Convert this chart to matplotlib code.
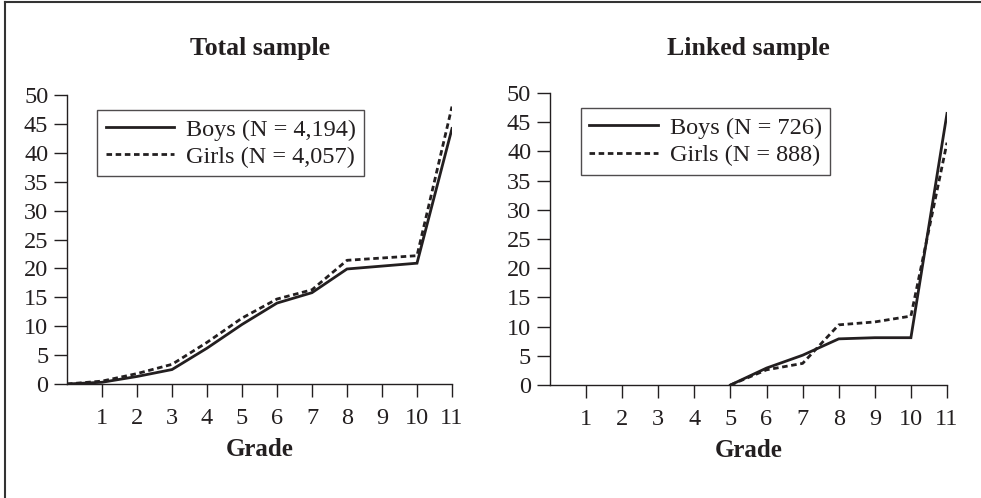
import matplotlib
matplotlib.use("Agg")
import matplotlib.pyplot as plt
from matplotlib.lines import Line2D

plt.rcParams['font.family'] = ['Liberation Serif', 'DejaVu Serif']

grades_total = [0, 1, 2, 3, 4, 5, 6, 7, 8, 9, 10, 11]
boys_total = [0, 0.3, 1.3, 2.5, 6.2, 10.3, 14.0, 15.8, 19.9, 20.4, 20.9, 44.2]
girls_total = [0, 0.5, 1.8, 3.4, 7.2, 11.4, 14.7, 16.3, 21.4, 21.8, 22.2, 48.0]

grades_linked = [5, 6, 7, 8, 9, 10, 11]
boys_linked = [0, 2.9, 5.1, 7.9, 8.1, 8.1, 46.5]
girls_linked = [0, 2.6, 3.7, 10.3, 10.8, 11.8, 41.5]

xticks = [1, 2, 3, 4, 5, 6, 7, 8, 9, 10, 11]
yticks = [0, 5, 10, 15, 20, 25, 30, 35, 40, 45, 50]

titles = ["Total sample", "Linked sample"]
boys_labels = ["Boys (N = 4,194)", "Boys (N = 726)"]
girls_labels = ["Girls (N = 4,057)", "Girls (N = 888)"]

fig = plt.figure(figsize=(9.81, 4.98), dpi=100)
ax1 = fig.add_axes([67/981, 1-384/498, 385/981, 289/498])
ax2 = fig.add_axes([550/981, 1-385/498, 397/981, 292/498])

data = [(grades_total, boys_total, girls_total), (grades_linked, boys_linked, girls_linked)]
col = '#231f20'
FS = 17.5
for i, ax in enumerate([ax1, ax2]):
    g, b, gl = data[i]
    ax.plot(g, b, color=col, lw=2.0, solid_joinstyle='miter', label=boys_labels[i])
    ax.plot(g, gl, color=col, lw=2.0, ls=(0, (2.0, 1.3)), label=girls_labels[i])
    ax.set_xlim(0, 11)
    ax.set_ylim(0, 50)
    ax.set_xticks(xticks)
    ax.set_yticks(yticks)
    ax.tick_params(axis='both', direction='out', length=9.5, width=1.0, color=col,
                   labelsize=FS, labelcolor=col)
    ax.tick_params(axis='x', pad=7.5)
    ax.tick_params(axis='y', pad=4)
    for s in ['top', 'right']:
        ax.spines[s].set_visible(False)
    for s in ['left', 'bottom']:
        ax.spines[s].set_linewidth(1.0)
        ax.spines[s].set_color(col)
    ax.set_xlabel("Grade", fontsize=18, fontweight='bold', color=col, labelpad=7)
    pos = ax.get_position()
    fig.text((pos.x0 + pos.x1) / 2, 1 - 48/498, titles[i], fontsize=18.5,
             fontweight='bold', color=col, ha='center', va='center')
    leg = ax.legend(loc='upper left', bbox_to_anchor=(0.078, 0.948), fontsize=FS,
                    frameon=True, fancybox=False, edgecolor=col, handlelength=2.8,
                    handletextpad=0.5, borderpad=0.35, labelspacing=0.22,
                    borderaxespad=0)
    leg.get_frame().set_linewidth(1.0)
    for t in leg.get_texts():
        t.set_color(col)

# figure border (top and left)
fig.add_artist(Line2D([4.5/981, 1], [1-2.5/498, 1-2.5/498], transform=fig.transFigure, color='#333333', lw=1.5))
fig.add_artist(Line2D([4.5/981, 4.5/981], [0, 1-2.5/498], transform=fig.transFigure, color='#333333', lw=1.5))

fig.savefig("out.png", dpi=100)
